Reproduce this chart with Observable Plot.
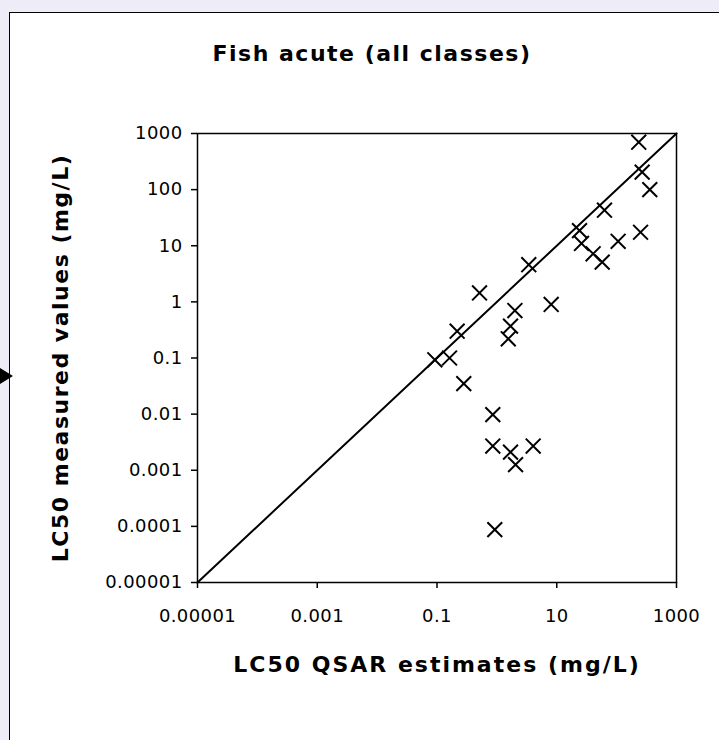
<!DOCTYPE html>
<html>
<head>
<meta charset="utf-8">
<script src="https://cdn.jsdelivr.net/npm/d3@7"></script>
<script src="https://cdn.jsdelivr.net/npm/@observablehq/plot@0.6"></script>
<style>
  body { margin: 0; }
  #wrap { position: relative; width: 719px; height: 740px; background: #eeedf7; overflow: hidden; font-family: "DejaVu Sans", sans-serif; }
  #frame { position: absolute; left: 9px; top: 12px; width: 800px; height: 800px; background: #fff; border: 1px solid #000; }
  #arrow { position: absolute; left: 0; top: 368px; width: 0; height: 0; border-top: 8px solid transparent; border-bottom: 8px solid transparent; border-left: 13px solid #000; }
  #chart { position: absolute; left: 0; top: 0; }
  #chart svg g.title-text text { letter-spacing: 1.5px; }
  #chart svg g.xtitle-text text { letter-spacing: 2px; }
  #chart svg g.tick-text text { letter-spacing: 0.4px; }
</style>
</head>
<body>
<div id="wrap">
  <div id="frame"></div>
  <div id="arrow"></div>
  <div id="chart"></div>
</div>
<script>
// LC50 QSAR estimates (mg/L)
const qsar = [234, 267, 358, 62.7, 251, 106, 24, 25.9, 40.5, 57.4, 3.41, 0.513, 8.07, 2.0, 1.69, 1.55, 0.217, 0.092, 0.162, 0.28, 0.855, 0.855, 1.69, 2.05, 4.04, 0.923];
// LC50 measured values (mg/L)
const measured = [700, 205, 100, 43, 17.4, 12, 18.6, 11, 7.2, 5.1, 4.6, 1.44, 0.9, 0.7, 0.37, 0.22, 0.3, 0.093, 0.1, 0.035, 0.0098, 0.0027, 0.0021, 0.00126, 0.0027, 0.0000875];

const axisDomain = [0.00001, 1000];
const xTicks = [0.00001, 0.001, 0.1, 10, 1000];
const xTickLabels = ["0.00001", "0.001", "0.1", "10", "1000"];
const yTicks = [0.00001, 0.0001, 0.001, 0.01, 0.1, 1, 10, 100, 1000];
const yTickLabels = ["0.00001", "0.0001", "0.001", "0.01", "0.1", "1", "10", "100", "1000"];

const title = "Fish acute (all classes)";
const xTitle = "LC50 QSAR estimates (mg/L)";
const yTitle = "LC50 measured values (mg/L)";

const points = qsar.map((x, i) => ({x, y: measured[i]}));
const identity = axisDomain.map(v => ({x: v, y: v}));

const titleStyle = {text: d => d, fontSize: 22, fontWeight: "bold", lineAnchor: "middle", textAnchor: "middle", className: "title-text"};

const chart = Plot.plot({
  width: 719,
  height: 740,
  marginLeft: 197,
  marginRight: 43,
  marginTop: 133,
  marginBottom: 158,
  style: {background: "transparent", fontFamily: "DejaVu Sans, sans-serif", color: "#000"},
  x: {type: "log", domain: axisDomain},
  y: {type: "log", domain: axisDomain},
  marks: [
    Plot.frame({stroke: "#000", strokeWidth: 1.5}),
    Plot.line(identity, {x: "x", y: "y", stroke: "#000", strokeWidth: 2}),
    Plot.dot(points, {x: "x", y: "y", symbol: "times", r: 6.8, stroke: "#000", strokeWidth: 2}),
    Plot.axisX({ticks: xTicks, tickFormat: d => xTickLabels[xTicks.indexOf(d)], tickSize: 6, tickPadding: 21, fontSize: 18, label: null, strokeWidth: 1.5, className: "tick-text"}),
    Plot.axisY({ticks: yTicks, tickFormat: d => yTickLabels[yTicks.indexOf(d)], tickSize: 6, tickPadding: 9, fontSize: 18, label: null, strokeWidth: 1.5, className: "tick-text"}),
    Plot.text([title], {...titleStyle, frameAnchor: "top", dy: -80, dx: -65}),
    Plot.text([xTitle], {...titleStyle, className: "xtitle-text", frameAnchor: "bottom", dy: 82}),
    Plot.text([yTitle], {...titleStyle, frameAnchor: "left", rotate: -90, dx: -137})
  ]
});
document.getElementById("chart").appendChild(chart);
</script>
</body>
</html>
